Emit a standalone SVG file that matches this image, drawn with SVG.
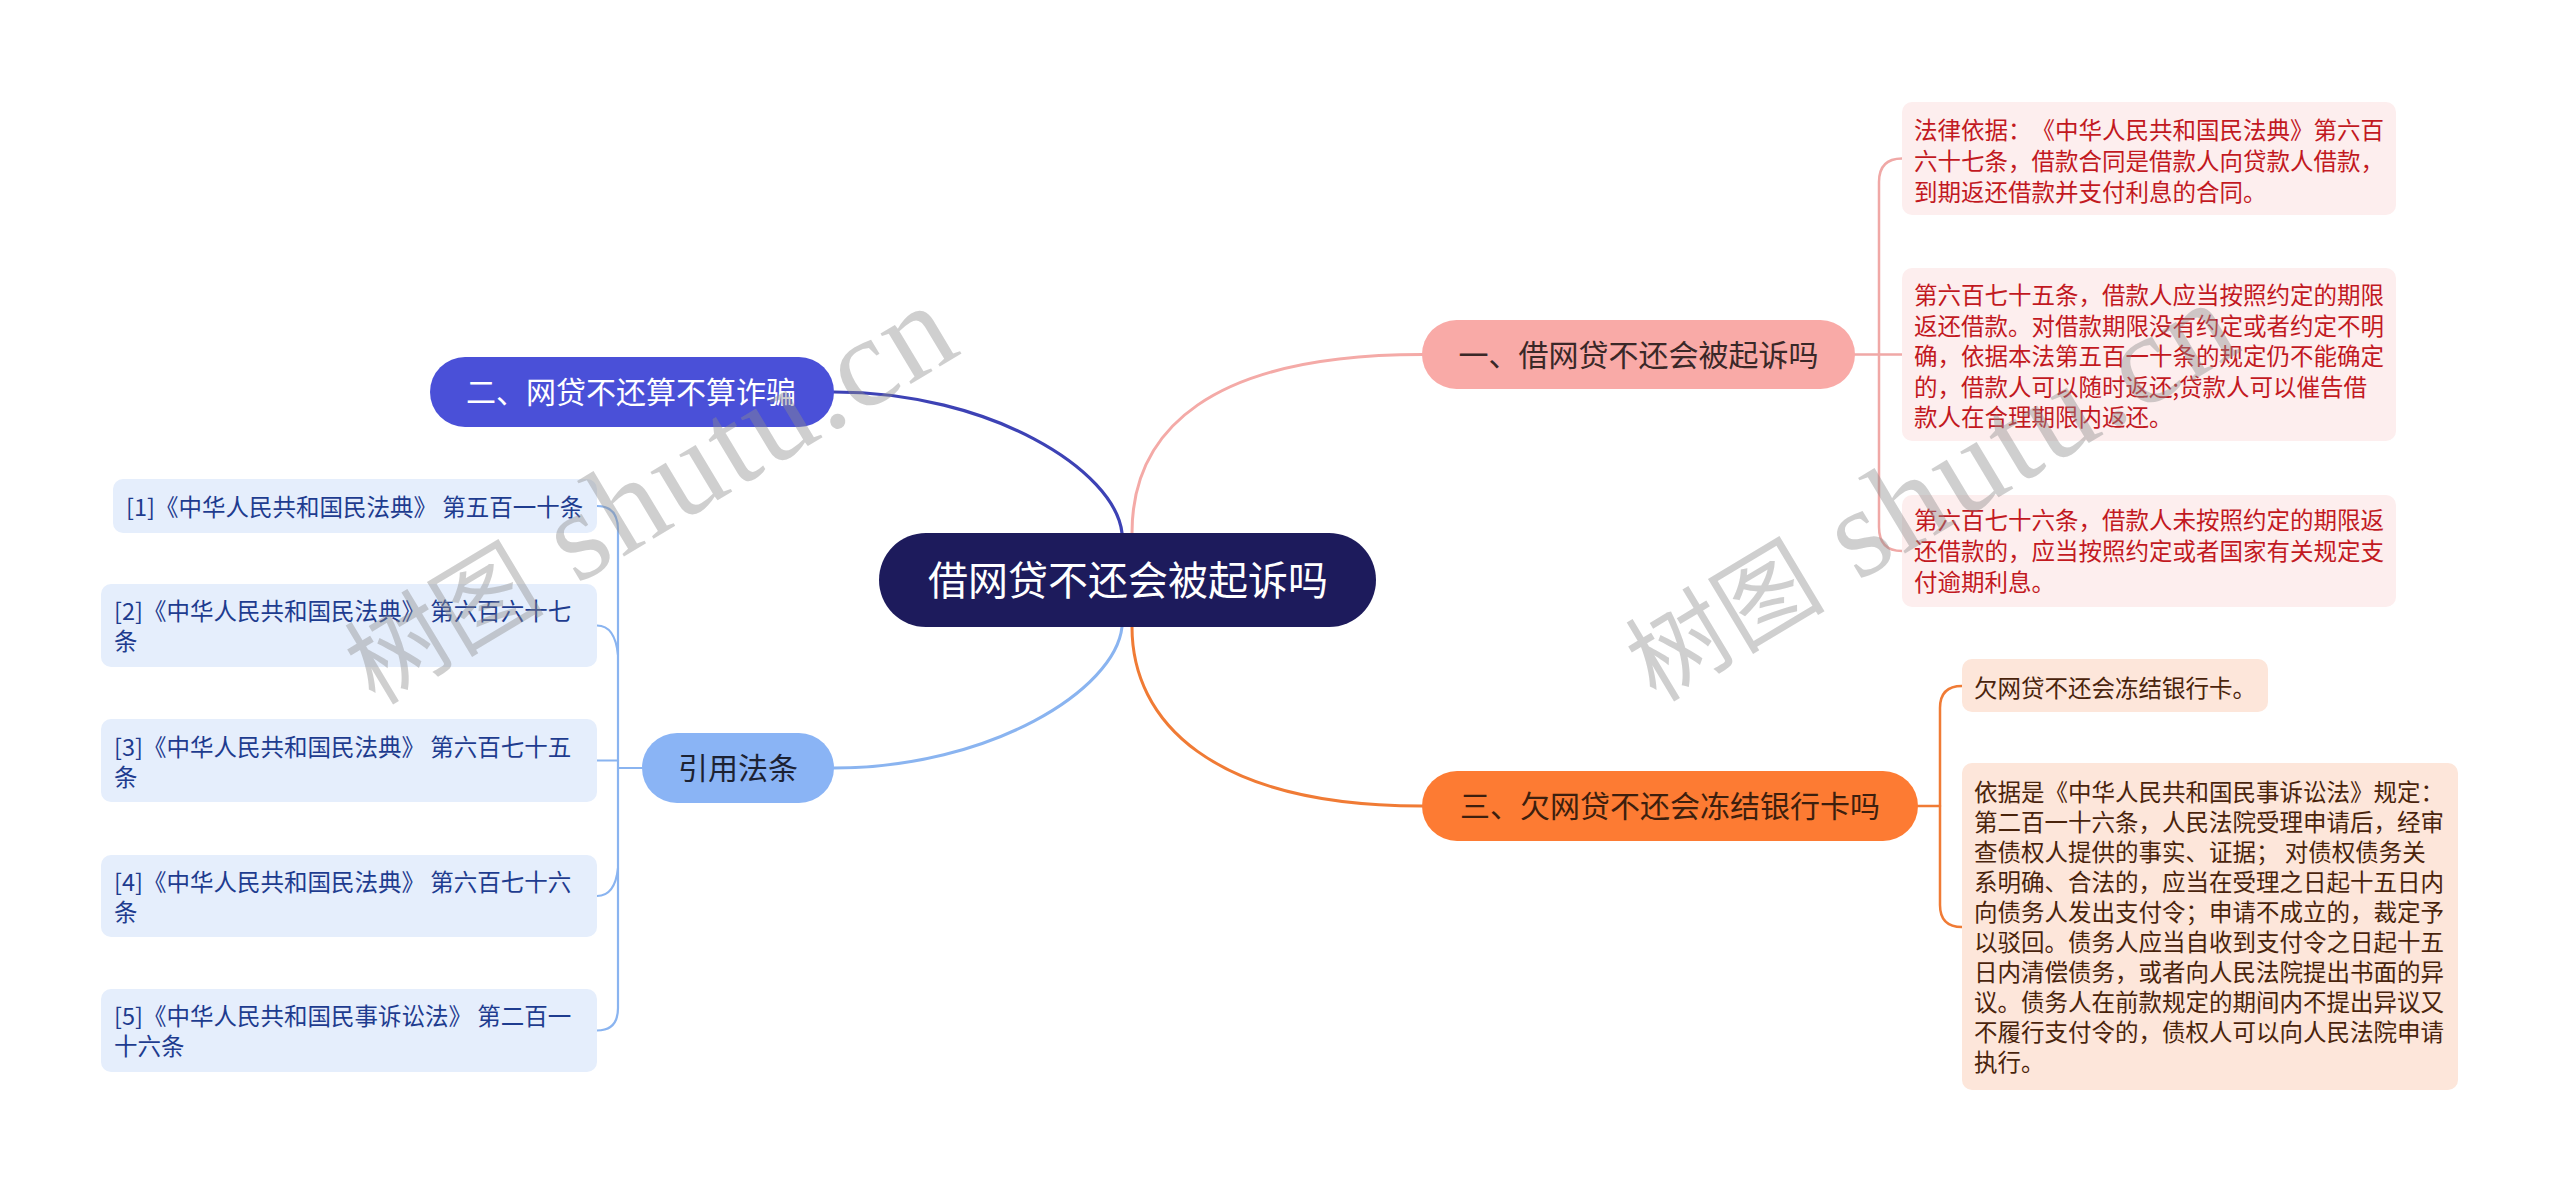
<svg xmlns="http://www.w3.org/2000/svg" width="2560" height="1192" viewBox="0 0 2560 1192">
<style>
text{font-family:"Noto Sans CJK SC","Microsoft YaHei",sans-serif;text-spacing-trim:space-all;}
.leaf{font-size:23.5px;}
.red rect{fill:#fdeeee;}
.red text{fill:#c2191f;}
.org rect{fill:#fde6da;}
.org text{fill:#4a240c;}
.blu rect{fill:#e5eefc;}
.blu text{fill:#1e3c8f;}
.main{font-size:30px;text-anchor:middle;}
.conn{fill:none;stroke-linecap:round;}
.wm text{font-family:"Liberation Serif","Noto Sans CJK SC",serif;fill:#8c8c8c;fill-opacity:0.42;}
</style>
<rect width="2560" height="1192" fill="#ffffff"/>
<g id="connectors" class="conn">
  <path d="M1132,533 C1132,430 1210,354.5 1422,354.5" stroke="#f4aaa7" stroke-width="3"/>
  <path d="M1122,533 C1115,470 990,392 834,392" stroke="#3d42b5" stroke-width="3.2"/>
  <path d="M1122,627 C1115,690 990,768 834,768" stroke="#8ab4f0" stroke-width="3"/>
  <path d="M1132,627 C1132,720 1210,806 1422,806" stroke="#f07b35" stroke-width="3"/>
  <g stroke="#f0a8a6" stroke-width="2.5">
    <path d="M1855,354.5 H1902"/>
    <path d="M1902,158.5 Q1879,158.5 1879,182 V527 Q1879,551 1902,551"/>
  </g>
  <g stroke="#f07b35" stroke-width="2.5">
    <path d="M1918,806 H1940"/>
    <path d="M1962,686 Q1940,686 1940,708 V905 Q1940,927 1962,927"/>
  </g>
  <g stroke="#8ab4f0" stroke-width="2.2">
    <path d="M642,768 H618"/>
    <path d="M597,506 Q618,506 618,530 V1008 Q618,1030.5 597,1030.5"/>
    <path d="M597,625.5 Q615,625.5 618,655"/>
    <path d="M597,760.5 H618"/>
    <path d="M597,896 Q615,896 618,868"/>
  </g>
</g>
<g id="root">
  <rect x="879" y="533" width="497" height="94" rx="47" fill="#1d1b5c"/>
  <text x="1128" y="595" font-size="40" text-anchor="middle" fill="#ffffff">借网贷不还会被起诉吗</text>
</g>
<g id="n1">
  <rect x="1422" y="320" width="433" height="69" rx="34.5" fill="#f9aaa7"/>
  <text class="main" x="1638.5" y="366.4" fill="#3a2828">一、借网贷不还会被起诉吗</text>
</g>
<g id="n2">
  <rect x="430" y="357" width="404" height="70" rx="35" fill="#4a50d8"/>
  <text class="main" x="631" y="403.4" fill="#ffffff">二、网贷不还算不算诈骗</text>
</g>
<g id="n3">
  <rect x="1422" y="771" width="496" height="70" rx="35" fill="#fd7b33"/>
  <text class="main" x="1670" y="817.4" fill="#3d1f0e">三、欠网贷不还会冻结银行卡吗</text>
</g>
<g id="n4">
  <rect x="642" y="733" width="192" height="70" rx="35" fill="#8ab4f5"/>
  <text class="main" x="738" y="779.4" fill="#1c2233">引用法条</text>
</g>
<g id="n1-1" class="red leaf">
  <rect x="1902" y="102" width="494" height="113" rx="10"/>
  <text x="1914" y="138.5">法律依据：《中华人民共和国民法典》第六百</text>
  <text x="1914" y="169.5">六十七条，借款合同是借款人向贷款人借款，</text>
  <text x="1914" y="200.5">到期返还借款并支付利息的合同。</text>
</g>
<g id="n1-2" class="red leaf">
  <rect x="1902" y="268" width="494" height="173" rx="10"/>
  <text x="1914" y="304">第六百七十五条，借款人应当按照约定的期限</text>
  <text x="1914" y="334.5">返还借款。对借款期限没有约定或者约定不明</text>
  <text x="1914" y="365">确，依据本法第五百一十条的规定仍不能确定</text>
  <text x="1914" y="395.5">的，借款人可以随时返还;贷款人可以催告借</text>
  <text x="1914" y="426">款人在合理期限内返还。</text>
</g>
<g id="n1-3" class="red leaf">
  <rect x="1902" y="495" width="494" height="112" rx="10"/>
  <text x="1914" y="529">第六百七十六条，借款人未按照约定的期限返</text>
  <text x="1914" y="560">还借款的，应当按照约定或者国家有关规定支</text>
  <text x="1914" y="591">付逾期利息。</text>
</g>
<g id="n3-1" class="org leaf">
  <rect x="1962" y="659" width="306" height="53" rx="10"/>
  <text x="1974" y="697">欠网贷不还会冻结银行卡。</text>
</g>
<g id="n3-2" class="org leaf">
  <rect x="1962" y="763" width="496" height="327" rx="10"/>
  <text x="1974" y="801">依据是《中华人民共和国民事诉讼法》规定：</text>
  <text x="1974" y="831">第二百一十六条，人民法院受理申请后，经审</text>
  <text x="1974" y="861">查债权人提供的事实、证据； 对债权债务关</text>
  <text x="1974" y="891">系明确、合法的，应当在受理之日起十五日内</text>
  <text x="1974" y="921">向债务人发出支付令；申请不成立的，裁定予</text>
  <text x="1974" y="951">以驳回。债务人应当自收到支付令之日起十五</text>
  <text x="1974" y="981">日内清偿债务，或者向人民法院提出书面的异</text>
  <text x="1974" y="1011">议。债务人在前款规定的期间内不提出异议又</text>
  <text x="1974" y="1041">不履行支付令的，债权人可以向人民法院申请</text>
  <text x="1974" y="1071">执行。</text>
</g>
<g id="r1" class="blu leaf">
  <rect x="113" y="479" width="484" height="54" rx="10"/>
  <text x="126" y="516">[1]《中华人民共和国民法典》 第五百一十条</text>
</g>
<g id="r2" class="blu leaf">
  <rect x="101" y="584" width="496" height="83" rx="10"/>
  <text x="114" y="620">[2]《中华人民共和国民法典》 第六百六十七</text>
  <text x="114" y="650">条</text>
</g>
<g id="r3" class="blu leaf">
  <rect x="101" y="719" width="496" height="83" rx="10"/>
  <text x="114" y="755.5">[3]《中华人民共和国民法典》 第六百七十五</text>
  <text x="114" y="785.5">条</text>
</g>
<g id="r4" class="blu leaf">
  <rect x="101" y="855" width="496" height="82" rx="10"/>
  <text x="114" y="890.5">[4]《中华人民共和国民法典》 第六百七十六</text>
  <text x="114" y="920.5">条</text>
</g>
<g id="r5" class="blu leaf">
  <rect x="101" y="989" width="496" height="83" rx="10"/>
  <text x="114" y="1024.5">[5]《中华人民共和国民事诉讼法》 第二百一</text>
  <text x="114" y="1054.5">十六条</text>
</g>
<g id="watermarks" class="wm">
  <text transform="translate(375,706) rotate(-31)" font-size="100">树图<tspan font-size="128" letter-spacing="3"> shutu.cn</tspan></text>
  <text transform="translate(1656,703) rotate(-31)" font-size="100">树图<tspan font-size="128" letter-spacing="3"> shutu.cn</tspan></text>
</g>
</svg>
